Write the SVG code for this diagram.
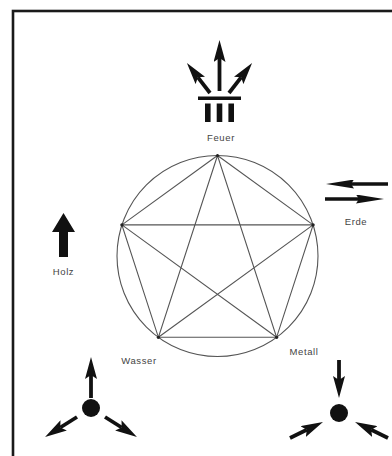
<svg xmlns="http://www.w3.org/2000/svg" width="392" height="456" viewBox="0 0 392 456">
<style>
.lbl{font-family:"Liberation Sans",Arial,sans-serif;font-size:9.5px;fill:#444;text-anchor:middle;letter-spacing:0.6px}
.geo{fill:none;stroke:#555;stroke-width:1.1}
.arr{stroke:#111;stroke-width:3.8;fill:none}
.arrE{stroke:#111;stroke-width:3.4;fill:none}
.blk{fill:#111}
</style>
<defs>
<marker id="h" markerUnits="userSpaceOnUse" orient="auto" markerWidth="22" markerHeight="12" refX="4" refY="6">
<path d="M0,0 L22,6 L0,12 L4,6 Z" fill="#111"/>
</marker>
<marker id="he" markerUnits="userSpaceOnUse" orient="auto" markerWidth="28" markerHeight="9" refX="3" refY="4.5">
<path d="M0,0 L28,4.5 L0,9 L3,4.5 Z" fill="#111"/>
</marker>
</defs>
<rect x="0" y="0" width="392" height="456" fill="#fff"/>
<rect x="13" y="11" width="400" height="460" fill="none" stroke="#1a1a1a" stroke-width="2.6"/>

<g id="wheel">
<circle class="geo" cx="217.5" cy="256" r="100.5"/>
<polygon class="geo" points="217.5,155.5 313.1,224.9 276.6,337.3 158.4,337.3 121.9,224.9"/>
<polygon class="geo" points="217.5,155.5 158.4,337.3 313.1,224.9 121.9,224.9 276.6,337.3"/>
<g fill="#222">
<circle cx="217.5" cy="155.5" r="1.6"/>
<circle cx="313.1" cy="224.9" r="1.6"/>
<circle cx="276.6" cy="337.3" r="1.6"/>
<circle cx="158.4" cy="337.3" r="1.6"/>
<circle cx="121.9" cy="224.9" r="1.6"/>
</g>
</g>

<g id="feuer">
<line class="arr" x1="219.5" y1="91" x2="219.5" y2="58" marker-end="url(#h)"/>
<line class="arr" x1="210" y1="93" x2="197.9" y2="77.3" marker-end="url(#h)"/>
<line class="arr" x1="229" y1="93" x2="241.1" y2="77.3" marker-end="url(#h)"/>
<rect class="blk" x="198" y="96.5" width="43" height="3.5"/>
<rect class="blk" x="205" y="103.5" width="5.6" height="18.5"/>
<rect class="blk" x="216.7" y="103.5" width="5.6" height="18.5"/>
<rect class="blk" x="228.4" y="103.5" width="5.6" height="18.5"/>
<text class="lbl" x="221" y="141">Feuer</text>
</g>

<g id="erde">
<line class="arrE" x1="388" y1="184" x2="351" y2="184" marker-end="url(#he)"/>
<line class="arrE" x1="325" y1="199" x2="359" y2="199" marker-end="url(#he)"/>
<text class="lbl" x="356" y="225">Erde</text>
</g>

<g id="holz">
<polygon class="blk" points="63.5,213 75,232 68,232 68,257 59,257 59,232 52,232"/>
<text class="lbl" x="63.5" y="275">Holz</text>
</g>

<g id="wasser">
<circle class="blk" cx="91" cy="408" r="9"/>
<line class="arr" x1="91" y1="398" x2="91" y2="375" marker-end="url(#h)"/>
<line class="arr" x1="77" y1="417" x2="60.3" y2="427.5" marker-end="url(#h)"/>
<line class="arr" x1="105" y1="417" x2="121.7" y2="427.5" marker-end="url(#h)"/>
<text class="lbl" x="139" y="364">Wasser</text>
</g>

<g id="metall">
<circle class="blk" cx="339" cy="413" r="9"/>
<line class="arr" x1="339" y1="360" x2="339" y2="380" marker-end="url(#h)"/>
<line class="arr" x1="290" y1="438" x2="306.8" y2="429.8" marker-end="url(#h)"/>
<line class="arr" x1="388" y1="438" x2="371.2" y2="429.8" marker-end="url(#h)"/>
<text class="lbl" x="304" y="355">Metall</text>
</g>
</svg>
